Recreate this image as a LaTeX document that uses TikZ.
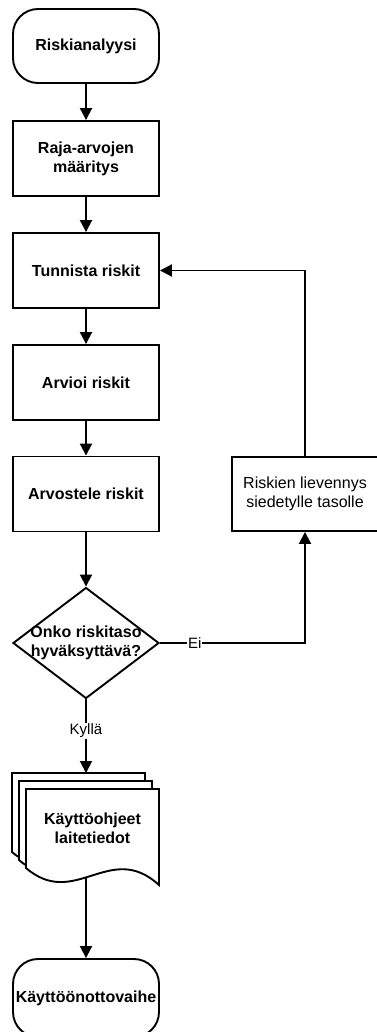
\documentclass[tikz,border=0pt]{standalone}
\usepackage{fontspec}
\setmainfont{Liberation Sans}
\usetikzlibrary{arrows.meta,shapes.geometric}
\begin{document}
\begin{tikzpicture}[x=1pt,y=-1pt,
  line width=1.9pt,
  boldtext/.style={font=\bfseries\fontsize{16}{19}\selectfont, align=center},
  plaintext/.style={font=\fontsize{16}{19}\selectfont, align=center},
  terminal/.style={draw, rounded corners=25pt, minimum width=146pt, inner sep=0pt, boldtext},
  process/.style={draw, minimum width=146pt, minimum height=75pt, inner sep=0pt, boldtext},
  flow/.style={-{Triangle[length=12pt,width=12pt]}},
  edgelabel/.style={fill=white, inner sep=1pt, font=\fontsize{15}{18}\selectfont}
]
\useasboundingbox (0,0) rectangle (376,1032);

% main column
\node[terminal, minimum height=74pt] (start) at (86,46) {Riskianalyysi};
\node[process] (limits) at (86,158.5) {Raja-arvojen\\määritys};
\node[process] (identify) at (86,270.5) {Tunnista riskit};
\node[process] (assess) at (86,382.5) {Arvioi riskit};
\node[process] (evaluate) at (86,494) {Arvostele riskit};

% decision
\node[diamond, draw, minimum width=146pt, minimum height=111pt, inner sep=0pt] (decide) at (86,643) {};
\node[boldtext] (decidetext) at (decide) {Onko riskitaso\\hyväksyttävä?};

% mitigation box on the right
\node[draw, minimum width=146pt, minimum height=74pt, inner sep=0pt, plaintext] (mitigate) at (305,494) {Riskien lievennys\\siedetylle tasolle};

% stacked documents
\foreach \dx/\dy in {-14/-16,-7/-8,0/0}{
  \draw[fill=white, shift={(\dx,\dy)}] (26,789) -- (159,789) -- (159,885)
    .. controls (110,840) and (75,910) .. (26,868) -- cycle;
}
\node[boldtext] (docs) at (92.5,828) {Käyttöohjeet\\laitetiedot};
\coordinate (docstop) at (86,773);
\coordinate (docsbottom) at (86,878);

% end terminal
\node[terminal, minimum height=78pt] (finish) at (86,998) {Käyttöönottovaihe};

% connectors
\draw[flow] (start) -- (limits);
\draw[flow] (limits) -- (identify);
\draw[flow] (identify) -- (assess);
\draw[flow] (assess) -- (evaluate);
\draw[flow] (evaluate) -- (decide.north);
\draw[flow] (decide.south) -- node[edgelabel, pos=0.43] {Kyllä} (docstop);
\draw[flow] (decide.east) -| node[edgelabel, pos=0.12] {Ei} (mitigate.south);
\draw[flow] (mitigate.north) |- (identify.east);
\draw[flow] (docsbottom) -- (finish.north -| docsbottom);
\end{tikzpicture}
\end{document}
